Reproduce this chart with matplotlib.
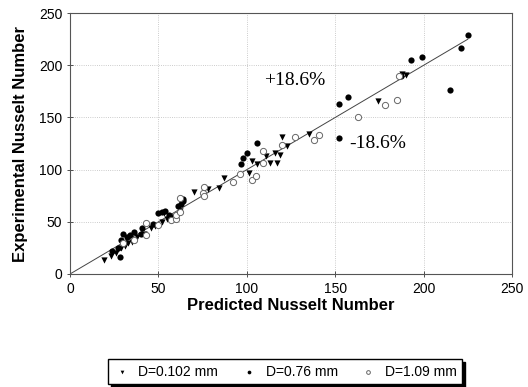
import numpy as np
import matplotlib.pyplot as plt

# (predicted, experimental) pairs
d102_pred = [19, 23, 26, 29, 31, 33, 35, 38, 42, 46, 48, 52, 55, 53, 57, 62, 70, 78, 84, 87,
             101, 103, 106, 111, 113, 117, 116, 119, 120, 123, 135, 174, 190, 188]
d102_exp = [13, 17, 20, 25, 27, 30, 31, 35, 38, 44, 46, 50, 53, 58, 55, 60, 79, 81, 82, 92,
            97, 108, 105, 113, 106, 106, 116, 114, 131, 123, 134, 166, 191, 192]

d076_pred = [24, 27, 28, 29, 30, 32, 34, 36, 41, 40, 47, 50, 52, 54, 56, 61, 63, 64, 64, 97,
             98, 100, 106, 152, 152, 157, 187, 193, 199, 215, 221, 225]
d076_exp = [22, 25, 16, 33, 38, 35, 37, 40, 44, 38, 48, 58, 59, 60, 57, 65, 67, 70, 72, 105,
            111, 116, 126, 130, 163, 170, 190, 205, 208, 176, 217, 229]

d109_pred = [30, 36, 43, 43, 50, 57, 60, 60, 62, 62, 75, 76, 76, 92, 96, 103, 105, 109, 109,
             120, 127, 138, 141, 163, 178, 185, 186]
d109_exp = [30, 33, 37, 49, 47, 52, 53, 57, 59, 73, 78, 75, 83, 88, 96, 90, 94, 106, 118,
            124, 131, 128, 133, 150, 162, 167, 190]

ticks = [0, 50, 100, 150, 200, 250]
line_max = 225

plt.rcParams['font.family'] = ['Liberation Sans', 'DejaVu Sans']

fig = plt.figure(figsize=(5.28, 3.87), dpi=100)
ax = fig.add_axes([0.1326, 0.292, 0.837, 0.674])

ax.plot([0, line_max], [0, line_max], color='#444444', lw=0.7, zorder=2)

ax.scatter(d102_pred, d102_exp, marker='v', s=20, c='black', linewidths=0, zorder=3,
           label='D=0.102 mm')
ax.scatter(d076_pred, d076_exp, marker='o', s=20, c='black', linewidths=0, zorder=3,
           label='D=0.76 mm')
ax.scatter(d109_pred, d109_exp, marker='o', s=20, facecolors='white', edgecolors='#666666',
           linewidths=0.7, zorder=3, label='D=1.09 mm')

ax.set_xlim(0, 250)
ax.set_ylim(0, 250)
ax.set_xticks(ticks)
ax.set_yticks(ticks)
ax.tick_params(direction='inout', length=4, width=0.6, labelsize=10, color='#333333')
ax.grid(True, linestyle=':', color='#bbbbbb', lw=0.6)
for sp in ax.spines.values():
    sp.set_color('#555555')
    sp.set_linewidth(0.8)

ax.set_xlabel('Predicted Nusselt Number', fontsize=12, fontweight='bold', labelpad=2)
ax.set_ylabel('Experimental Nusselt Number', fontsize=12, fontweight='bold', labelpad=8)

ax.text(110, 185, '+18.6%', fontsize=14, family='Liberation Serif', va='center', ha='left')
ax.text(158, 125, '-18.6%', fontsize=14, family='Liberation Serif', va='center', ha='left')

fig.legend(loc='center', bbox_to_anchor=(0.54, 0.04), ncol=3, fontsize=10,
           fancybox=False, edgecolor='black', framealpha=1, handlelength=1.2,
           handletextpad=0.6, columnspacing=1.6, borderpad=0.4, markerscale=0.6,
           shadow={'color': 'black', 'alpha': 1})

fig.savefig('out.png', dpi=100)
